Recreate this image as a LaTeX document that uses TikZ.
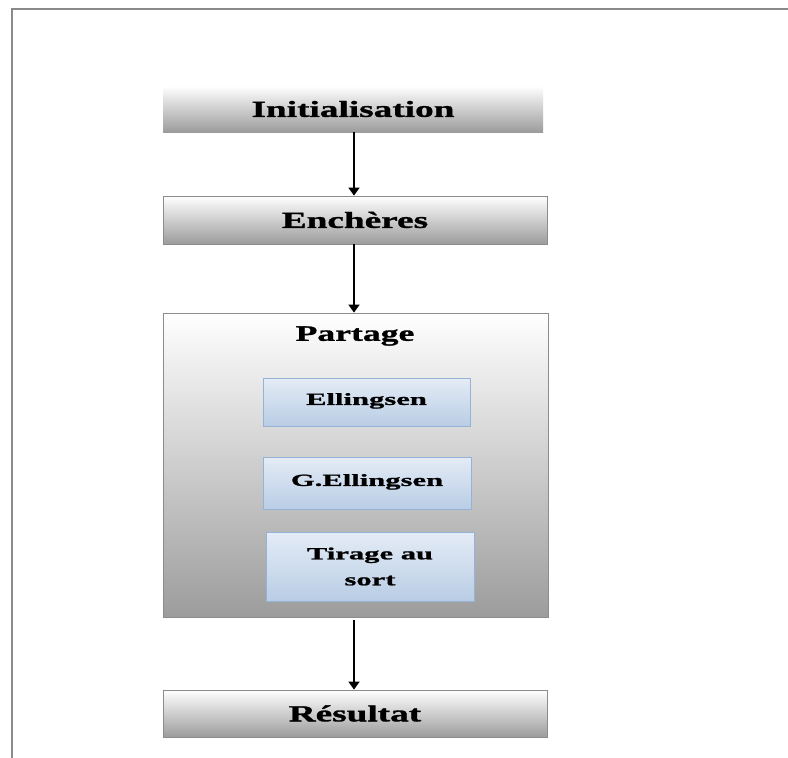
\documentclass[tikz,border=0pt]{standalone}
\usepackage{fontspec}
\setmainfont{Liberation Serif}
\newfontfamily\bigfont[FakeStretch=1.62, FakeBold=1.3]{Liberation Serif Bold}
\newfontfamily\smallfont[FakeStretch=1.8, FakeBold=1.2]{Liberation Serif Bold}
\usetikzlibrary{arrows.meta}
\definecolor{framegray}{HTML}{8A8A8A}
\definecolor{boxedge}{HTML}{8C8C8C}
\definecolor{shadebot}{HTML}{9C9C9C}
\definecolor{bluetop}{HTML}{E4ECF6}
\definecolor{bluebot}{HTML}{B9CDE5}
\definecolor{blueedge}{HTML}{95B3D7}
\tikzset{
  stagebox/.style={draw=boxedge, line width=0.8pt, top color=white, bottom color=shadebot,
    font=\bigfont\fontsize{23}{26}\selectfont, inner sep=0pt},
  methodbox/.style={draw=blueedge, line width=1pt, top color=bluetop, bottom color=bluebot,
    font=\smallfont\fontsize{17}{26}\selectfont, align=center, inner sep=0pt},
  flow/.style={line width=1.6pt, -{Triangle[length=8pt,width=11pt]}}
}
\begin{document}
\begin{tikzpicture}[x=1pt,y=-1pt]
  \useasboundingbox (0,0) rectangle (788,758);
  \fill[white] (0,0) rectangle (788,758);
  % page frame
  \draw[framegray, line width=2pt] (11.5,758) -- (11.5,8.5) -- (788,8.5);

  % main stages
  \node[stagebox, minimum width=380pt, minimum height=46pt, draw=none] (init) at (353,109) {Initialisation};
  \node[stagebox, minimum width=384pt, minimum height=48pt] (bid) at (355,220) {Enchères};
  \node[stagebox, minimum width=385pt, minimum height=304pt] (share) at (355.5,465) {};
  \node[font=\bigfont\fontsize{22}{26}\selectfont] (sharelabel) at (355,336) {Partage};
  \node[stagebox, minimum width=384pt, minimum height=47pt] (result) at (355,713.5) {Résultat};

  % sharing methods
  \node[methodbox, minimum width=207pt, minimum height=48pt] (ell) at (366.5,402) {\raisebox{6pt}{Ellingsen}};
  \node[methodbox, minimum width=208pt, minimum height=52pt] (gell) at (367,483) {\raisebox{6pt}{G.Ellingsen}};
  \node[methodbox, minimum width=208pt, minimum height=69pt] (draw) at (370,566.5) {Tirage au\\sort};

  % flow between stages, all on one vertical axis
  \coordinate (axis) at (354,0);
  \draw[flow] (axis |- init.south) -- (axis |- bid.north);
  \draw[flow] (axis |- bid.south) -- (axis |- share.north);
  \draw[flow] ([yshift=-3pt]axis |- share.south) -- (axis |- result.north);
\end{tikzpicture}
\end{document}
